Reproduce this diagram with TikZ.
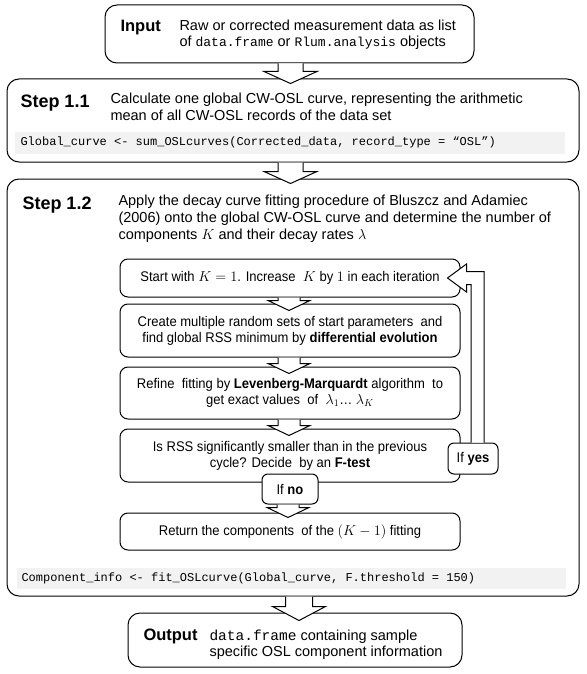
\documentclass[tikz,border=0pt]{standalone}
\usepackage{fontspec}
\setmainfont{Liberation Sans}
\setmonofont{Liberation Mono}
\newfontfamily\narrowfont[FakeStretch=0.93]{Liberation Sans}
\usetikzlibrary{calc}
\definecolor{codegray}{HTML}{F2F2F2}
\newcommand{\fsz}[2]{\fontsize{#1}{#2}\selectfont}
% #1 from node, #2 to node, #3 x shift, #4 half shaft, #5 half head, #6 head depth, #7 overlap
\newcommand{\blockarrow}[7]{%
  \path[arrowline] let \p1=(#1.south), \p2=(#2.north) in
    (\x2+#3pt-#4pt,\y1) -- (\x2+#3pt-#4pt,\y2-#7pt+#6pt) -- (\x2+#3pt-#5pt,\y2-#7pt+#6pt)
    -- (\x2+#3pt,\y2-#7pt) -- (\x2+#3pt+#5pt,\y2-#7pt+#6pt) -- (\x2+#3pt+#4pt,\y2-#7pt+#6pt)
    -- (\x2+#3pt+#4pt,\y1);}
\begin{document}
\begin{tikzpicture}[x=1pt,y=-1pt,line width=1pt,
  outerbox/.style={draw, rounded corners=12pt, fill=white, inner sep=0pt},
  innerbox/.style={draw, rounded corners=8pt, fill=white, inner sep=0pt, minimum width=340pt},
  ifbox/.style={draw, rounded corners=6pt, fill=white, inner sep=0pt},
  codebar/.style={fill=codegray, inner sep=0pt},
  arrowline/.style={draw, fill=white, line width=1pt, line join=miter},
  steplabel/.style={inner sep=0pt, anchor=base west, font=\bfseries\fsz{18}{20}},
  iolabel/.style={inner sep=0pt, anchor=base west, font=\bfseries\fsz{16.5}{18}},
  bodytext/.style={inner sep=0pt, anchor=base west, align=left, font=\fsz{14.5}{17}},
  innertext/.style={inner sep=0pt, align=center, font=\narrowfont\fsz{14}{15.8}},
  codetext/.style={inner sep=0pt, anchor=base west, font=\ttfamily\fsz{12}{14}}]
\useasboundingbox (0,0) rectangle (586,674);
\fill[white] (0,0) rectangle (586,674);

% Input
\node[outerbox, minimum width=369pt, minimum height=58pt] (input) at (289.5,34) {};
\node[iolabel] (inlab) at (120,32) {Input};
\node[bodytext, font=\fsz{14.5}{16}] (intext) at (179,47) {Raw or corrected measurement data as list\\of {\ttfamily\fsz{13}{16}data.frame} or {\ttfamily\fsz{13}{16}Rlum.analysis} objects};

% Step 1.1
\node[outerbox, minimum width=572pt, minimum height=83pt] (s11) at (293,120.5) {};
\node[steplabel] (s11lab) at (20,107) {Step 1.1};
\node[bodytext, font=\fsz{14.5}{17.5}] (s11text) at (110,121) {Calculate one global CW-OSL curve, representing the arithmetic\\mean of all CW-OSL records of the data set};
\node[codebar, minimum width=550pt, minimum height=22pt] (code1) at (290,143) {};
\node[codetext] (code1text) at (20,146) {Global\_curve <- sum\_OSLcurves(Corrected\_data, record\_type = “OSL”)};

% Step 1.2
\node[outerbox, minimum width=572pt, minimum height=417pt] (s12) at (293,387.5) {};
\node[steplabel] (s12lab) at (22,209) {Step 1.2};
\node[bodytext, font=\fsz{14.5}{17}] (s12text) at (118,239) {Apply the decay curve fitting procedure of Bluszcz and Adamiec\\(2006) onto the global CW-OSL curve and determine the number of\\components $K$ and their decay rates $\lambda$};

\node[innerbox, minimum height=38pt] (boxa) at (290,278) {};
\node[innertext] (texta) at (290,278) {Start with $K = 1$. Increase \ $K$ by $1$ in each iteration};

\node[innerbox, minimum height=53pt] (boxb) at (290,330.5) {};
\node[innertext] (textb) at (290,330.5) {Create multiple random sets of start parameters \ and\\find global RSS minimum by \textbf{differential evolution}};

\node[innerbox, minimum height=52pt] (boxc) at (290,393) {};
\node[innertext] (textc) at (290,393) {Refine \ fitting by \textbf{Levenberg-Marquardt} algorithm \ to\\get exact values \ of \ $\lambda_1$… $\lambda_K$};

\node[innerbox, minimum height=53pt] (boxd) at (290,455.5) {};
\node[innertext] (textd) at (290,455.5) {Is RSS significantly smaller than in the previous\\cycle? Decide \ by an \textbf{F-test}};

\node[innerbox, minimum height=37pt] (boxe) at (290,531.5) {};
\node[innertext] (texte) at (290,531.5) {Return the components \ of the $(K - 1)$ fitting};

\blockarrow{boxa}{boxb}{-1}{11}{21}{10}{7}
\blockarrow{boxb}{boxc}{-1}{11}{21}{10}{7}
\blockarrow{boxc}{boxd}{-1}{11}{21}{10}{7}

\node[ifbox, minimum width=56pt, minimum height=30pt] (ifno) at (290,489) {};
\node[innertext] (ifnotext) at (290,489) {If \textbf{no}};
\node[ifbox, minimum width=50pt, minimum height=31pt] (ifyes) at (473,458.5) {};
\node[innertext] (ifyestext) at (473,458.5) {If \textbf{yes}};

\blockarrow{ifno}{boxe}{-2}{11}{21}{10}{5}

% feedback arrow
\path[arrowline] let \p1=(ifyes.north), \p2=(boxa.east) in
  (\x1-2pt,\y1) -- (\x1-2pt,\y2-6.5pt) -- (\x2+6pt,\y2-6.5pt) -- (\x2+6pt,\y2-14pt)
  -- (\x2-13pt,\y2) -- (\x2+6pt,\y2+14pt) -- (\x2+6pt,\y2+6.5pt)
  -- (\x1+11pt,\y2+6.5pt) -- (\x1+11pt,\y1);

\node[codebar, minimum width=549pt, minimum height=21pt] (code2) at (291.5,578.5) {};
\node[codetext] (code2text) at (21,581) {Component\_info <- fit\_OSLcurve(Global\_curve, F.threshold = 150)};

% Output
\node[outerbox, minimum width=334pt, minimum height=54pt] (output) at (295,640) {};
\node[iolabel] (outlab) at (143,640) {Output};
\node[bodytext, font=\fsz{14.5}{16}] (outtext) at (209,656) {{\ttfamily\fsz{14.5}{16}data.frame} containing sample\\specific OSL component information};

% main arrows
\blockarrow{input}{s11}{-2.5}{12.5}{26.5}{12}{5}
\blockarrow{s11}{s12}{-2.5}{12.5}{26.5}{12}{5}
\blockarrow{s12}{output}{4}{13.5}{26.5}{14}{8}
\end{tikzpicture}
\end{document}
